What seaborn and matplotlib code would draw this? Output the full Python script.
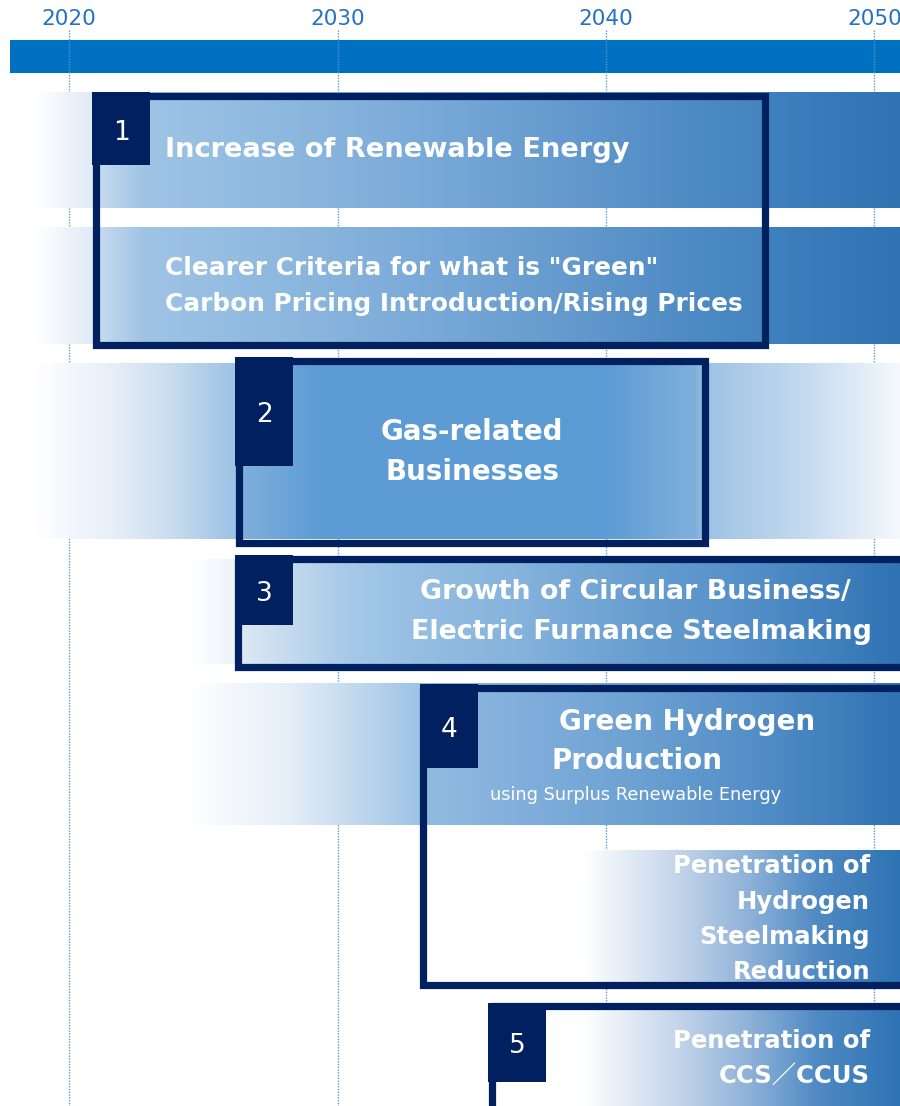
import numpy as np
import matplotlib
matplotlib.use("Agg")
import matplotlib.pyplot as plt
import seaborn as sns
from matplotlib.colors import to_rgb
from matplotlib.patches import Rectangle

sns.set_theme(style="white")
plt.rcParams['font.family'] = ['DejaVu Sans']

# ---------------- data ----------------
years = [2020, 2030, 2040, 2050]
item_numbers = ["1", "2", "3", "4", "5"]
box_start = [2021.0, 2026.33, 2026.31, 2033.2, 2035.75]   # year each framed item begins
box_end = [2045.92, 2043.67, 2052.0, 2052.0, 2052.0]      # year each framed item ends

row1_title = "Increase of Renewable Energy"
row1_sub = ['Clearer Criteria for what is "Green"',
            "Carbon Pricing Introduction/Rising Prices"]
row2_lines = ["Gas-related", "Businesses"]
row3_lines = ["Growth of Circular Business/", "Electric Furnance Steelmaking"]
row4_lines = ["Green Hydrogen", "Production"]
row4_note = "using Surplus Renewable Energy"
row4b_lines = ["Penetration of", "Hydrogen", "Steelmaking", "Reduction"]
row5_lines = ["Penetration of", "CCS／CCUS"]

# gradient colour stops (year, colour) for each band
stops_row1 = [(2018.73, "#ffffff"), (2020.86, "#e0eaf6"), (2021.12, "#c5daee"),
              (2022.79, "#9fc3e5"), (2024.73, "#98c0e3"), (2030.24, "#85b2dc"),
              (2034.52, "#74a6d6"), (2038.81, "#6399cd"), (2043.09, "#4e8bc4"),
              (2045.88, "#4584c0"), (2046.07, "#3f80be"), (2050.95, "#2f73b3")]
stops_row2 = [(2018.70, "#ffffff"), (2021.71, "#e6eef8"), (2023.83, "#c8dcee"),
              (2026.18, "#9cc2e5"), (2026.44, "#7fb0dc"), (2029.20, "#5e9cd4"),
              (2039.89, "#5b9bd5"), (2043.32, "#7fb0dc"), (2043.84, "#9ec3e5"),
              (2047.38, "#c5daef"), (2050.95, "#f5f8fc")]
stops_row3 = [(2024.47, "#ffffff"), (2026.18, "#eef3fa"), (2026.44, "#dde8f4"),
              (2030.24, "#a8cae8"), (2032.40, "#98c0e3"), (2036.69, "#85b3dc"),
              (2040.93, "#699fd0"), (2045.21, "#5590c8"), (2050.95, "#2f73b3")]
stops_row4 = [(2024.47, "#ffffff"), (2028.12, "#e5eef8"), (2030.24, "#c8dcef"),
              (2033.03, "#9dc3e5"), (2033.37, "#90bbe0"), (2036.69, "#82afdc"),
              (2040.93, "#6da2d2"), (2045.21, "#5690c8"), (2050.95, "#2f73b3")]
stops_row5 = [(2039.14, "#ffffff"), (2042.87, "#c0d2e9"), (2045.36, "#8db1d8"),
              (2047.86, "#4f8ac4"), (2050.95, "#2e73b3")]

# ---------------- style ----------------
NAVY = "#002060"
TICK_BLUE = "#2472c0"
BAR_BLUE = "#0070c0"
GRID_BLUE = "#5b9bd5"
XMIN, XMAX = 2017.43, 2050.95
H = 1106

fig = plt.figure(figsize=(9, 11.06), dpi=100)
ax = fig.add_axes([0, 0, 1, 1])
ax.set_axis_off()

px = (XMAX - XMIN) / 900.0  # years per pixel


def band(stops, ytop, ybot):
    xs = np.array([s[0] for s in stops])
    cs = np.array([to_rgb(s[1]) for s in stops])
    grid = np.linspace(xs[0], xs[-1], 900)
    img = np.stack([np.interp(grid, xs, cs[:, k]) for k in range(3)], axis=-1)[None, :, :]
    ax.imshow(img, extent=[xs[0], xs[-1], ybot, ytop], aspect="auto",
              interpolation="bilinear", zorder=3)


# top timeline bar
ax.add_patch(Rectangle((XMIN + 10 * px, 40), XMAX - XMIN, 33, color=BAR_BLUE, lw=0, zorder=1))
# year grid lines and labels
ax.vlines(years, 30, H, colors=GRID_BLUE, linestyles=(0, (1, 1)), lw=1, zorder=2)
for y in years:
    ax.text(y, 19, str(y), ha="center", va="center", color=TICK_BLUE, fontsize=15.5, zorder=2)

# gradient bands
band(stops_row1, 92, 208)
band(stops_row1, 227, 344)
band(stops_row2, 363, 539)
band(stops_row3, 559, 664)
band(stops_row4, 683, 825)
band(stops_row5, 850, 983)
band(stops_row5, 1010, H + 5)

# frames
box_top = [95.5, 361, 558.5, 687.5, 1006]
box_bot = [345, 543, 667, 985, H + 20]
for s, e, t, b in zip(box_start, box_end, box_top, box_bot):
    ax.add_patch(Rectangle((s, t), e - s, b - t, fill=False, edgecolor=NAVY,
                           lw=5.2, joinstyle="miter", zorder=5))

# number tabs
tab_w = 57 * px
tab_h = [73, 109, 70, 84, 79]
tab_top = [92, 357, 555, 684, 1003]
num_y = [133, 415, 594, 730, 1046]
for n, s, t, h, ny in zip(item_numbers, box_start, tab_top, tab_h, num_y):
    x0 = s - 3.5 * px
    ax.add_patch(Rectangle((x0, t), tab_w + 1 * px, h, color=NAVY, lw=0, zorder=6))
    ax.text(x0 + (tab_w + px) / 2, ny, n,
            ha="center", va="center", color="white", fontsize=19,
            fontweight="normal", zorder=7)

wt = dict(color="white", fontweight="bold", zorder=8, va="center")
ax.text(2023.58, 150, row1_title, ha="left", fontsize=19.6, **wt)
for line, yy in zip(row1_sub, [268, 304]):
    ax.text(2023.58, yy, line, ha="left", fontsize=17.8, **wt)
for line, yy in zip(row2_lines, [432, 472]):
    ax.text(2035.01, yy, line, ha="center", fontsize=20, **wt)
for line, xx, yy in zip(row3_lines, [2041.10, 2041.32], [592, 632]):
    ax.text(xx, yy, line, ha="center", fontsize=19.4, **wt)
for line, xx, yy in zip(row4_lines, [2043.02, 2041.15], [722, 761]):
    ax.text(xx, yy, line, ha="center", fontsize=20, **wt)
ax.text(2041.12, 795, row4_note, ha="center", va="center", color="white",
        fontsize=12.8, zorder=8)
for line, yy in zip(row4b_lines, [866, 902, 937, 972]):
    ax.text(2049.83, yy, line, ha="right", fontsize=17.5, **wt)
for line, yy in zip(row5_lines, [1041, 1076]):
    ax.text(2049.83, yy, line, ha="right", fontsize=17.5,
            family=["DejaVu Sans", "Noto Sans CJK JP"], **wt)

ax.set_xlim(XMIN, XMAX)
ax.set_ylim(H, 0)
fig.savefig("out.png", dpi=100, facecolor="white")
